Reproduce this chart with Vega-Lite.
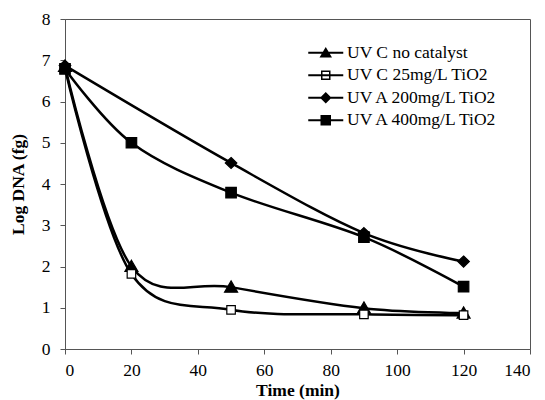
{
  "$schema": "https://vega.github.io/schema/vega-lite/v6.json",
  "width": 465,
  "height": 330,
  "autosize": {"type": "none"},
  "padding": {"left": 65, "top": 19, "right": 15, "bottom": 51},
  "background": "white",
  "config": {
    "view": {"stroke": "#555", "strokeWidth": 1},
    "font": "Liberation Serif",
    "axis": {
      "grid": false,
      "domainColor": "#555",
      "tickColor": "#555",
      "tickSize": 5,
      "labelFont": "Liberation Serif",
      "labelFontSize": 17.5,
      "labelColor": "black",
      "titleFont": "Liberation Serif",
      "titleFontSize": 17.5,
      "titleFontWeight": "bold",
      "titleColor": "black"
    }
  },
  "data": {
    "values": [
      {"series": "UV C no catalyst", "time": 0, "dna": 6.85},
      {"series": "UV C no catalyst", "time": 20, "dna": 2.0},
      {"series": "UV C no catalyst", "time": 50, "dna": 1.5},
      {"series": "UV C no catalyst", "time": 90, "dna": 0.99},
      {"series": "UV C no catalyst", "time": 120, "dna": 0.87},
      {"series": "UV C 25mg/L TiO2", "time": 0, "dna": 6.8},
      {"series": "UV C 25mg/L TiO2", "time": 20, "dna": 1.82},
      {"series": "UV C 25mg/L TiO2", "time": 50, "dna": 0.95},
      {"series": "UV C 25mg/L TiO2", "time": 90, "dna": 0.84},
      {"series": "UV C 25mg/L TiO2", "time": 120, "dna": 0.82},
      {"series": "UV A 200mg/L TiO2", "time": 0, "dna": 6.87},
      {"series": "UV A 200mg/L TiO2", "time": 50, "dna": 4.51},
      {"series": "UV A 200mg/L TiO2", "time": 90, "dna": 2.81},
      {"series": "UV A 200mg/L TiO2", "time": 120, "dna": 2.12},
      {"series": "UV A 400mg/L TiO2", "time": 0, "dna": 6.79},
      {"series": "UV A 400mg/L TiO2", "time": 20, "dna": 5.0},
      {"series": "UV A 400mg/L TiO2", "time": 50, "dna": 3.79},
      {"series": "UV A 400mg/L TiO2", "time": 90, "dna": 2.71},
      {"series": "UV A 400mg/L TiO2", "time": 120, "dna": 1.51}
    ]
  },
  "encoding": {
    "x": {
      "field": "time", "type": "quantitative",
      "scale": {"domain": [0, 140], "nice": false, "zero": true},
      "axis": {"values": [0, 20, 40, 60, 80, 100, 120, 140], "title": "Time (min)", "labelPadding": 7, "titlePadding": 3}
    },
    "y": {
      "field": "dna", "type": "quantitative",
      "scale": {"domain": [0, 8], "nice": false},
      "axis": {"values": [0, 1, 2, 3, 4, 5, 6, 7, 8], "title": "Log DNA (fg)", "labelPadding": 10, "titlePadding": 14}
    }
  },
  "layer": [
    {
      "mark": {"type": "line", "interpolate": "cardinal", "color": "black", "strokeWidth": 2.5},
      "encoding": {"detail": {"field": "series"}}
    },
    {
      "mark": {"type": "point", "stroke": "black", "strokeWidth": 1.2, "opacity": 1, "size": 100},
      "encoding": {
        "shape": {
          "field": "series", "type": "nominal",
          "scale": {
            "domain": ["UV C no catalyst", "UV C 25mg/L TiO2", "UV A 200mg/L TiO2", "UV A 400mg/L TiO2"],
            "range": ["M0,-1.25L1.3,1L-1.3,1Z", "M-0.85,-0.85H0.85V0.85H-0.85Z", "M0,-1.1L1.15,0L0,1.1L-1.15,0Z", "M-1.05,-1.05H1.05V1.05H-1.05Z"]
          },
          "legend": null
        },
        "fill": {
          "field": "series", "type": "nominal",
          "scale": {
            "domain": ["UV C no catalyst", "UV C 25mg/L TiO2", "UV A 200mg/L TiO2", "UV A 400mg/L TiO2"],
            "range": ["black", "white", "black", "black"]
          },
          "legend": null
        }
      }
    },
    {
      "transform": [{"filter": "false"}],
      "mark": {"type": "point", "filled": true, "color": "black", "opacity": 1, "size": 100},
      "encoding": {
        "shape": {
          "field": "series", "type": "nominal",
          "scale": {
            "domain": ["UV C no catalyst", "UV C 25mg/L TiO2", "UV A 200mg/L TiO2", "UV A 400mg/L TiO2"],
            "range": [
              "M-3.5,-0.2H3.5V0.2H-3.5ZM0,-1.15L1.25,0.95L-1.25,0.95Z",
              "M-3.5,-0.2H3.5V0.2H-3.5ZM-0.95,-0.95H0.95V0.95H-0.95ZM-0.65,-0.65V0.65H0.65V-0.65Z",
              "M-3.5,-0.2H3.5V0.2H-3.5ZM0,-1.15L1.15,0L0,1.15L-1.15,0Z",
              "M-3.5,-0.2H3.5V0.2H-3.5ZM-1.05,-1.05H1.05V1.05H-1.05Z"
            ]
          },
          "legend": {
            "title": null,
            "orient": "none",
            "legendX": 240,
            "legendY": 25,
            "padding": 0,
            "symbolSize": 100,
            "symbolFillColor": "black",
            "symbolOpacity": 1,
            "symbolOffset": 12,
            "labelOffset": 12.5,
            "labelFont": "Liberation Serif",
            "labelFontSize": 17.5,
            "labelColor": "black",
            "rowPadding": 3.5,
            "labelLimit": 300,
            "encode": {
              "symbols": {
                "fill": {"value": "black"},
                "stroke": {"value": "transparent"},
                "opacity": {"value": 1}
              }
            }
          }
        }
      }
    }
  ],
  "resolve": {"scale": {"shape": "independent"}, "legend": {"shape": "independent"}}
}
